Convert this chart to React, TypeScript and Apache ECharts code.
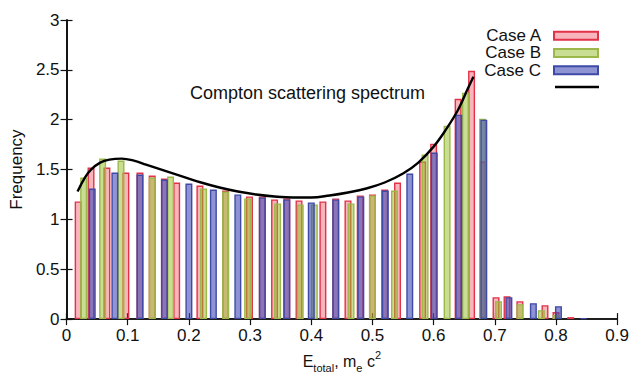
import React, { useEffect, useRef } from "react";
import * as echarts from "echarts";

const xTicks = [0, 0.1, 0.2, 0.3, 0.4, 0.5, 0.6, 0.7, 0.8, 0.9];
const caseNames = ["Case A", "Case B", "Case C"];
const curveName = "Compton scattering spectrum";

const caseAx = [0.019, 0.040, 0.066, 0.097, 0.120, 0.140, 0.160, 0.180, 0.218, 0.260, 0.299, 0.320, 0.340, 0.360, 0.380, 0.419, 0.440, 0.460, 0.480, 0.500, 0.520, 0.541, 0.582, 0.600, 0.640, 0.662, 0.680, 0.702, 0.720, 0.741, 0.782, 0.800, 0.824];
const caseAy = [1.18, 1.52, 1.52, 1.47, 1.47, 1.44, 1.41, 1.37, 1.34, 1.29, 1.23, 1.23, 1.20, 1.21, 1.19, 1.18, 1.21, 1.19, 1.24, 1.25, 1.30, 1.37, 1.58, 1.76, 2.21, 2.49, 1.58, 0.22, 0.23, 0.18, 0.14, 0.07, 0.02];

const caseBx = [0.028, 0.059, 0.089, 0.140, 0.170, 0.224, 0.260, 0.296, 0.345, 0.382, 0.405, 0.465, 0.500, 0.536, 0.586, 0.622, 0.652, 0.680, 0.706, 0.741, 0.776, 0.800];
const caseBy = [1.42, 1.61, 1.59, 1.42, 1.43, 1.31, 1.28, 1.21, 1.16, 1.15, 1.15, 1.16, 1.24, 1.29, 1.65, 1.94, 2.27, 2.01, 0.18, 0.15, 0.09, 0.04];

const caseCx = [0.042, 0.079, 0.120, 0.160, 0.200, 0.240, 0.280, 0.320, 0.360, 0.400, 0.440, 0.481, 0.521, 0.561, 0.601, 0.641, 0.682, 0.723, 0.763, 0.804, 0.845];
const caseCy = [1.31, 1.47, 1.45, 1.40, 1.36, 1.30, 1.25, 1.22, 1.20, 1.17, 1.20, 1.23, 1.29, 1.46, 1.67, 2.05, 2.00, 0.22, 0.16, 0.13, 0.01];

const curveX = [0.018, 0.03, 0.04, 0.055, 0.07, 0.09, 0.11, 0.13, 0.16, 0.19, 0.22, 0.25, 0.28, 0.31, 0.34, 0.37, 0.40, 0.43, 0.46, 0.49, 0.52, 0.55, 0.575, 0.60, 0.62, 0.64, 0.655, 0.665];
const curveY = [1.28, 1.42, 1.50, 1.57, 1.60, 1.61, 1.59, 1.55, 1.49, 1.43, 1.37, 1.32, 1.28, 1.25, 1.23, 1.22, 1.22, 1.24, 1.27, 1.31, 1.37, 1.46, 1.57, 1.73, 1.90, 2.10, 2.30, 2.43];

const pairs = (xs: number[], ys: number[]) => xs.map((x, i) => [x, ys[i]]);

const FONT = "Liberation Sans";

export default function App() {
  const ref = useRef<HTMLDivElement>(null);
  useEffect(() => {
    if (!ref.current) return;
    const chart = echarts.init(ref.current, null, { renderer: "svg" });
    const barStyles = [
      { color: "rgba(240,60,80,0.38)", borderColor: "#e23248" },
      { color: "rgba(150,190,40,0.5)", borderColor: "#9cb84a" },
      { color: "rgba(60,70,180,0.58)", borderColor: "#3f4aa6" },
    ];
    const caseData = [pairs(caseAx, caseAy), pairs(caseBx, caseBy), pairs(caseCx, caseCy)];
    const axisCommon = {
      axisLine: { show: true, lineStyle: { color: "#111", width: 1.7 } },
      axisTick: { show: true, inside: true, length: 6, lineStyle: { color: "#111", width: 1.2 } },
      splitLine: { show: false },
    };
    chart.setOption({
      animation: false,
      textStyle: { fontFamily: FONT },
      grid: { left: 63, right: 14, top: 20, bottom: 53, containLabel: false },
      legend: {
        orient: "vertical",
        right: 33,
        top: 27,
        padding: 0,
        align: "right",
        itemWidth: 44,
        itemHeight: 8,
        itemGap: 0,
        selectedMode: false,
        textStyle: { fontSize: 17, color: "#111", fontFamily: FONT, lineHeight: 17.3, padding: [0, 8, 0, 0] },
        data: caseNames.map((name) => ({ name, icon: "rect" })),
      },
      xAxis: [
        {
          type: "value",
          min: 0,
          max: 0.9,
          interval: 0.1,
          position: "bottom",
          ...axisCommon,
          axisLabel: { fontSize: 17, color: "#111", margin: 8, fontFamily: FONT },
          name: "{n|E}{s|total}{n|, m}{s|e}{n| c}{p|2}",
          nameLocation: "middle",
          nameGap: 24,
          nameTextStyle: {
            rich: {
              n: { fontSize: 16, color: "#111", fontFamily: FONT, lineHeight: 24, verticalAlign: "middle" },
              s: { fontSize: 11, color: "#111", fontFamily: FONT, lineHeight: 24, verticalAlign: "bottom" },
              p: { fontSize: 11, color: "#111", fontFamily: FONT, lineHeight: 24, verticalAlign: "top" },
            },
          },
        },
        {
          type: "value",
          min: 0,
          max: 0.9,
          interval: 0.1,
          position: "top",
          ...axisCommon,
          axisLabel: { show: false },
        },
      ],
      yAxis: [
        {
          type: "value",
          min: 0,
          max: 3,
          interval: 0.5,
          position: "left",
          ...axisCommon,
          axisLabel: { fontSize: 17, color: "#111", margin: 7, fontFamily: FONT },
          name: "Frequency",
          nameLocation: "middle",
          nameGap: 37,
          nameRotate: 90,
          nameTextStyle: { fontSize: 17, color: "#111", fontFamily: FONT },
        },
        {
          type: "value",
          min: 0,
          max: 3,
          interval: 0.5,
          position: "right",
          ...axisCommon,
          axisLabel: { show: false },
        },
      ],
      series: [
        ...caseNames.map((name, i) => ({
          name,
          type: "bar",
          xAxisIndex: 0,
          yAxisIndex: 0,
          barWidth: 7,
          barGap: "-100%",
          itemStyle: { ...barStyles[i], borderWidth: 1.4 },
          data: caseData[i],
        })),
        {
          name: curveName,
          type: "line",
          xAxisIndex: 0,
          yAxisIndex: 0,
          smooth: 0.4,
          symbol: "none",
          lineStyle: { color: "#000", width: 2.4 },
          itemStyle: { color: "#000" },
          z: 5,
          data: pairs(curveX, curveY),
        },
      ],
      graphic: [
        {
          type: "text",
          left: 190,
          top: 84,
          style: { text: curveName, fontSize: 18, fill: "#111", fontFamily: FONT },
        },
        {
          type: "line",
          shape: { x1: 555, y1: 87, x2: 599, y2: 87 },
          style: { stroke: "#000", lineWidth: 2.4 },
        },
      ],
    });
    return () => chart.dispose();
  }, []);
  return <div ref={ref} style={{ width: 632, height: 378, position: "absolute", left: 0, top: 0 }} />;
}
